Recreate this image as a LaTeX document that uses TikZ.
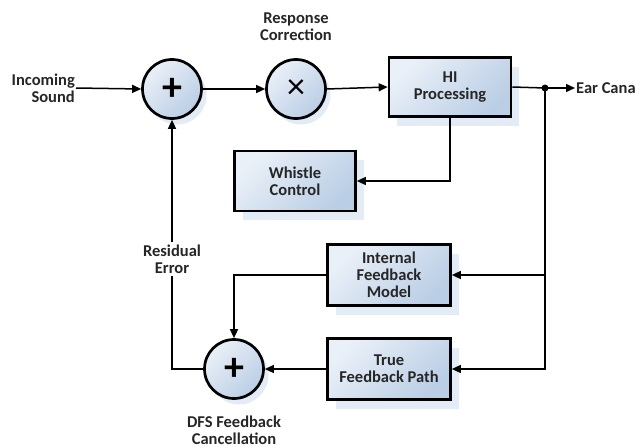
\documentclass[tikz,border=0pt]{standalone}
\usepackage{fontspec}
\setmainfont{Carlito}
\usetikzlibrary{arrows.meta,shadows}
\definecolor{fillA}{HTML}{EAF0F8}
\definecolor{fillB}{HTML}{BACEE5}
\definecolor{shadowC}{HTML}{E3EBF6}
\definecolor{ink}{HTML}{262626}
\begin{document}
\begin{tikzpicture}[x=1pt,y=-1pt,
  txt/.style={font=\fontsize{16.5}{17}\selectfont\bfseries, text=ink, align=center, inner sep=1pt},
  blk/.style={draw, line width=2.7pt, top color=fillA, bottom color=fillB, shading angle=45,
    drop shadow={shadow xshift=8pt, shadow yshift=-9pt, fill=shadowC, opacity=1},
    font=\fontsize{16.5}{17}\selectfont\bfseries, text=ink, align=center, inner sep=2pt},
  opc/.style={circle, draw, line width=2.7pt, minimum size=59pt, inner sep=0pt,
    top color=fillA, bottom color=fillB, shading angle=45,
    drop shadow={shadow xshift=5pt, shadow yshift=-6pt, fill=shadowC, opacity=1}},
  con/.style={line width=1.5pt},
  arr/.style={con, -{Triangle[length=9pt,width=8pt]}}
]
\useasboundingbox (0,0) rectangle (635,447);
% operators
\node[opc, font=\fontsize{40}{40}\selectfont\bfseries] (sum1) at (172,89) {+};
\node[opc, font=\fontsize{36}{36}\selectfont] (mult) at (296,89) {×};
\node[opc, font=\fontsize{40}{40}\selectfont\bfseries] (dfs) at (234,369) {+};
% blocks
\node[blk, minimum width=122pt, minimum height=59pt] (hi) at (450,87) {HI\\Processing};
\node[blk, minimum width=121pt, minimum height=60pt] (wc) at (295,181) {Whistle\\Control};
\node[blk, minimum width=123pt, minimum height=61pt] (ifm) at (389,275) {Internal\\Feedback\\Model};
\node[blk, minimum width=123pt, minimum height=61pt] (tfp) at (389,369) {True\\Feedback Path};
% labels
\node[txt, anchor=east, align=right] (ins) at (76,88) {Incoming\\Sound};
\node[txt] (rc) at (296,27) {Response\\Correction};
\node[txt, anchor=west] (ear) at (575,88) {Ear Canal};
\node[txt] (dfsl) at (234,430) {DFS Feedback\\Cancellation};
\coordinate (dot) at (545,88);
% connectors
\draw[arr] (ins.east) -- (sum1.west);
\draw[arr] (sum1.east) -- (mult.west);
\draw[arr] (mult.east) -- (hi.west);
\draw[con] (hi.east) -- (dot);
\draw[arr] (dot) -- (ear.west);
\fill (dot) circle (3.5pt);
\draw[arr] (hi.south) |- (wc.east);
\draw[arr] (dot) |- (ifm.east);
\draw[arr] (dot) |- (tfp.east);
\draw[arr] (ifm.west) -| (dfs.north);
\draw[arr] (tfp.west) -- (dfs.east);
\draw[arr] (dfs.west) -| (sum1.south);
\node[txt, fill=white, inner sep=3pt] (re) at (172,259) {Residual\\Error};
\end{tikzpicture}
\end{document}
